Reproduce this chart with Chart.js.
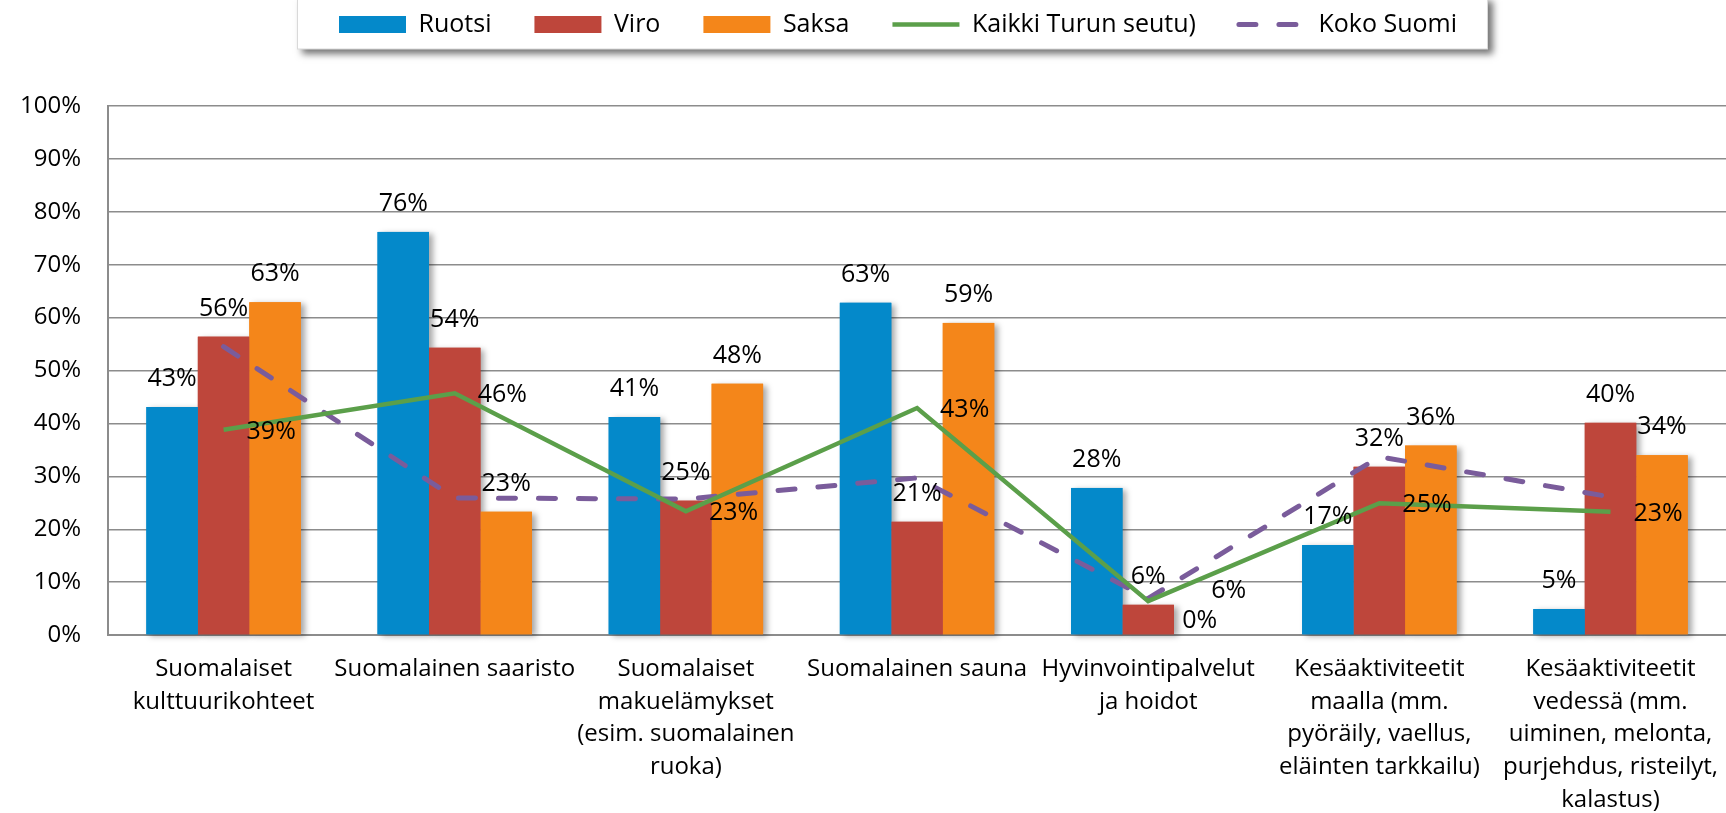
<!DOCTYPE html>
<html lang="fi">
<head>
<meta charset="utf-8">
<script src="https://cdn.jsdelivr.net/npm/chart.js@4.4.1/dist/chart.umd.min.js"></script>
<style>
	html, body { margin: 0; padding: 0; background: #fff; overflow: hidden; }
	#wrap { position: relative; width: 1736px; height: 813px; }
</style>
</head>
<body>
<div id="wrap"><canvas id="chartCanvas"></canvas></div>
<script>
// kategoriat (x-akseli)
const categories = [
	["Suomalaiset", "kulttuurikohteet"],
	"Suomalainen saaristo",
	["Suomalaiset", "makuelämykset", "(esim. suomalainen", "ruoka)"],
	"Suomalainen sauna",
	["Hyvinvointipalvelut", "ja hoidot"],
	["Kesäaktiviteetit", "maalla (mm.", "pyöräily, vaellus,", "eläinten tarkkailu)"],
	["Kesäaktiviteetit", "vedessä (mm.", "uiminen, melonta,", "purjehdus, risteilyt,", "kalastus)"]
];

// sarjat (%)
const ruotsi = [43.1, 76.2, 41.2, 62.8, 27.8, 17.0, 4.9];
const viro = [56.4, 54.3, 25.4, 21.4, 5.7, 31.8, 40.1];
const saksa = [62.9, 23.3, 47.5, 59.0, 0, 35.8, 34.0];
const turunSeutu = [38.8, 45.7, 23.4, 42.9, 6.4, 24.9, 23.3];
const kokoSuomi = [54.5, 25.9, 25.7, 29.7, 6.9, 33.7, 26.1];

// y-akselin tikit
const yTicks = [0, 10, 20, 30, 40, 50, 60, 70, 80, 90, 100];

const FONT = '"Open Sans", "Noto Sans", sans-serif';
const GRID = "#8c8c8c";

// pylväiden varjo: piirretään ennen pylväitä, jolloin viereiset pylväät peittävät sen
const barShadow = {
	id: "barShadow",
	beforeDatasetsDraw(chart) {
		const c = chart.ctx;
		c.save();
		c.shadowColor = "rgba(0,0,0,0.35)";
		c.shadowBlur = 6;
		c.shadowOffsetX = 4;
		c.shadowOffsetY = 2;
		chart.data.datasets.forEach((ds, i) => {
			const meta = chart.getDatasetMeta(i);
			if (meta.type !== "bar") return;
			c.fillStyle = ds.backgroundColor;
			meta.data.forEach((el) => {
				const h = el.base - el.y;
				if (h <= 0) return;
				c.fillRect(el.x - el.width / 2, el.y, el.width, h);
			});
		});
		c.restore();
	}
};

// arvotekstit
const lineLabelNudge = { 4: [40, -12] };
const valueLabels = {
	id: "valueLabels",
	afterDatasetsDraw(chart) {
		const c = chart.ctx;
		c.save();
		c.font = "25px " + FONT;
		c.fillStyle = "#000";
		c.textBaseline = "middle";
		chart.data.datasets.forEach((ds, i) => {
			if (ds.noLabels) return;
			const meta = chart.getDatasetMeta(i);
			meta.data.forEach((el, j) => {
				const txt = Math.round(ds.data[j]) + "%";
				if (meta.type === "bar") {
					c.textAlign = "center";
					// nollapylvään teksti hieman alempana kuten alkuperäisessä
					c.fillText(txt, el.x, el.y - (ds.data[j] === 0 ? 14 : 28));
				} else {
					const n = lineLabelNudge[j] || [0, 0];
					c.textAlign = "left";
					c.fillText(txt, el.x + 23 + n[0], el.y + 2 + n[1]);
				}
			});
		});
		c.restore();
	}
};

// selitteen laatikko ja sijainti
const legendFrame = {
	id: "legendFrame",
	beforeInit(chart) {
		const lg = chart.legend;
		const origFit = lg.fit;
		lg.fit = function () {
			origFit.call(this);
			this.height = 106;
		};
		const origDraw = lg.draw;
		lg.draw = function () {
			const c = this.ctx;
			const hb = this.legendHitBoxes;
			if (!hb || !hb.length) return origDraw.apply(this, arguments);
			const dx = 339 - hb[0].left;
			const dy = -31;
			const last = hb[hb.length - 1];
			const left = 297;
			const right = last.left + last.width + dx + 31;
			c.save();
			c.shadowColor = "rgba(0,0,0,0.55)";
			c.shadowBlur = 7;
			c.shadowOffsetX = 5;
			c.shadowOffsetY = 5;
			c.fillStyle = "#fff";
			c.fillRect(left, -4, right - left, 53);
			c.restore();
			c.save();
			c.strokeStyle = "#d9d9d9";
			c.lineWidth = 1;
			c.strokeRect(left + 0.5, -4, right - left - 1, 53);
			c.restore();
			c.save();
			c.translate(dx, dy);
			origDraw.apply(this, arguments);
			c.restore();
		};
	}
};

const ctx = document.getElementById("chartCanvas").getContext("2d");

const chart = new Chart(ctx, {
	type: "bar",
	data: {
		labels: categories,
		datasets: [
			{
				label: "Ruotsi",
				data: ruotsi,
				backgroundColor: "#0489CA",
				borderWidth: 0,
				categoryPercentage: 0.668,
				barPercentage: 1,
				order: 0
			},
			{
				label: "Viro",
				data: viro,
				backgroundColor: "#BE463B",
				borderWidth: 0,
				categoryPercentage: 0.668,
				barPercentage: 1,
				order: 0
			},
			{
				label: "Saksa",
				data: saksa,
				backgroundColor: "#F4861A",
				borderWidth: 0,
				categoryPercentage: 0.668,
				barPercentage: 1,
				order: 0
			},
			{
				type: "line",
				label: "Kaikki Turun seutu)",
				data: turunSeutu,
				borderColor: "#5B9F4A",
				backgroundColor: "#5B9F4A",
				borderWidth: 4.5,
				pointRadius: 0,
				tension: 0,
				order: -1
			},
			{
				type: "line",
				label: "Koko Suomi",
				data: kokoSuomi,
				borderColor: "#7A5C9B",
				backgroundColor: "#7A5C9B",
				borderWidth: 5,
				borderDash: [17, 23],
				borderCapStyle: "round",
				pointRadius: 0,
				tension: 0,
				noLabels: true,
				order: -1
			}
		]
	},
	options: {
		responsive: true,
		maintainAspectRatio: false,
		animation: false,
		layout: { padding: 0 },
		scales: {
			x: {
				afterFit(scale) {
					scale.height = 178;
				},
				grid: { display: false, drawTicks: false },
				border: { display: true, color: GRID, width: 2 },
				ticks: {
					autoSkip: false,
					maxRotation: 0,
					minRotation: 0,
					padding: 18,
					color: "#000",
					font: { family: FONT, size: 24, lineHeight: 1.36 }
				}
			},
			y: {
				min: 0,
				max: 100,
				afterFit(scale) {
					scale.width = 108;
				},
				afterBuildTicks(scale) {
					scale.ticks = yTicks.map((v) => ({ value: v }));
				},
				grid: { color: GRID, lineWidth: 1.4, drawTicks: false },
				border: { display: true, color: GRID, width: 2 },
				ticks: {
					padding: 27,
					color: "#000",
					font: { family: FONT, size: 24 },
					callback: (v) => v + "%"
				}
			}
		},
		plugins: {
			tooltip: { enabled: false },
			legend: {
				position: "top",
				labels: {
					usePointStyle: true,
					pointStyleWidth: 67,
					boxHeight: 17,
					padding: 43,
					color: "#000",
					font: { family: FONT, size: 25 },
					sort: (a, b) => a.datasetIndex - b.datasetIndex,
					generateLabels(chart) {
						const items = Chart.defaults.plugins.legend.labels.generateLabels(chart);
						items.forEach((it) => {
							const ds = chart.data.datasets[it.datasetIndex];
							if (ds.type === "line") {
								it.pointStyle = "line";
								it.strokeStyle = ds.borderColor;
								it.lineWidth = ds.borderWidth;
								it.lineDash = ds.borderDash || [];
								it.lineCap = ds.borderCapStyle || "butt";
							} else {
								it.pointStyle = "rect";
								it.fillStyle = ds.backgroundColor;
								it.lineWidth = 0;
							}
						});
						return items;
					}
				}
			}
		}
	},
	plugins: [legendFrame, barShadow, valueLabels]
});
</script>
</body>
</html>
